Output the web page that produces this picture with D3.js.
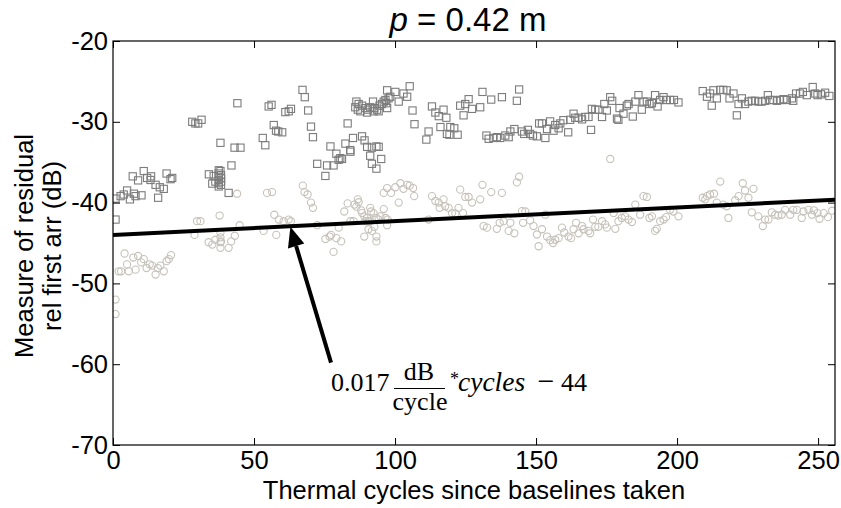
<!DOCTYPE html>
<html><head><meta charset="utf-8">
<script src="https://cdn.jsdelivr.net/npm/d3@7"></script>
<style>body{margin:0;background:#fff}svg{display:block}</style>
</head><body>
<svg id="chart" width="841" height="508"></svg>
<script>
// ---- data ----
const xTicks = [0, 50, 100, 150, 200, 250];
const yTicks = [-20, -30, -40, -50, -60, -70];
const xDomain = [0, 256];
const yDomain = [-70, -20];
const fitSlope = 0.017;
const fitIntercept = -44;
const arrowTail = [77.3, -59.8];
const arrowTip = [62.9, -43.0];

const squareSeries = [
[0.9,-39.5],[0.9,-42.1],[2.7,-39.2],[3.8,-39.0],[5.0,-38.5],[6.0,-39.6],[7.0,-36.75],[7.4,-38.9],[8.0,-39.2],[8.9,-37.25],[10.1,-39.1],[10.9,-36.1],[12.1,-36.95],[13.3,-37.2],[13.5,-36.75],[15.1,-37.8],[16.0,-39.4],[16.6,-38.1],[18.0,-38.3],[19.0,-36.4],[20.4,-37.1],[21.0,-36.95],
[28.1,-30.0],[29.2,-30.2],[30.2,-30.2],[31.4,-29.75],
[34.0,-36.5],[35.2,-37.65],[35.7,-36.7],[36.3,-37.4],[37.5,-36.0],[37.5,-36.4],[37.5,-36.8],[37.5,-37.2],[37.5,-37.6],[37.5,-38.0],[38.1,-36.1],[38.1,-32.6],[38.3,-36.6],[38.3,-37.0],[38.3,-37.4],[38.3,-37.8],[41.0,-38.8],[42.0,-35.4],[43.1,-33.2],[44.1,-27.7],[45.2,-33.2],
[53.1,-32.0],[54.0,-32.9],[55.2,-28.1],[56.2,-27.9],[57.0,-30.4],[57.8,-31.1],[58.6,-31.2],[60.0,-31.3],[61.1,-28.8],[62.3,-28.7],[63.1,-28.4],
[67.2,-26.05],[68.0,-26.95],[69.2,-28.6],[70.2,-30.6],[70.9,-31.9],[72.4,-35.2],[75.3,-36.7],[75.9,-35.4],[77.1,-33.05],[78.2,-35.4],[79.2,-33.95],[80.0,-34.7],[80.6,-34.5],[81.2,-34.6],[82.4,-32.7],[83.2,-30.2],[84.1,-33.5],[84.2,-33.7],[85.1,-32.0],
[85.9,-28.2],[86.3,-27.5],[86.8,-28.5],[87.1,-27.8],[87.7,-28.7],[88.3,-28.0],[88.3,-31.8],[89.2,-32.3],[89.5,-28.3],[90.1,-33.1],[90.1,-28.85],[90.3,-28.5],[91.2,-28.2],[91.2,-34.2],[91.8,-33.2],[91.8,-35.2],[92.2,-27.5],[92.4,-28.7],[92.7,-28.3],[93.4,-33.05],[93.4,-35.8],[93.6,-28.5],[94.2,-33.1],[94.2,-28.7],[94.5,-28.0],[95.1,-34.6],[95.4,-27.8],[96.0,-27.5],[96.6,-27.3],[96.9,-27.7],[97.2,-28.3],[97.2,-26.1],[97.7,-27.1],[98.3,-26.9],[100.1,-26.3],[101.3,-27.5],[103.0,-26.5],[104.3,-26.9],[105.2,-25.6],[106.2,-28.6],[106.9,-30.3],
[111.1,-32.2],[111.9,-31.2],[113.1,-28.1],[114.3,-28.85],[115.5,-29.3],[116.1,-30.65],[117.2,-28.5],[118.2,-29.5],[118.4,-31.5],[119.3,-31.6],[119.6,-30.65],[121.0,-30.8],[122.2,-31.6],[123.1,-28.0],[124.3,-29.2],[124.9,-27.8],[126.1,-27.2],[127.3,-28.4],[130.2,-28.2],[131.0,-26.3],
[132.4,-31.7],[133.2,-32.1],[134.1,-27.25],[134.9,-32.0],[136.1,-31.9],[137.3,-32.0],[137.9,-26.95],[139.1,-31.7],[140.3,-31.9],[140.9,-31.2],[142.3,-30.9],[143.2,-27.4],[144.0,-26.0],[145.0,-31.2],[145.8,-31.5],[147.1,-31.0],[147.9,-31.5],[148.9,-31.7],[150.3,-31.8],[151.1,-30.2],[152.1,-30.2],[153.3,-32.0],[153.9,-30.9],[155.0,-29.95],[156.2,-31.1],[156.8,-30.4],[158.0,-30.8],[158.6,-30.2],[159.7,-29.8],[161.4,-31.3],[162.1,-29.75],[163.3,-29.0],[163.9,-29.5],[165.1,-29.5],[166.3,-29.7],[167.4,-29.4],[168.6,-29.4],[169.5,-31.0],[169.8,-28.4],[171.0,-28.5],[172.1,-28.5],[173.4,-29.4],[174.2,-27.8],[175.1,-28.6],[176.3,-26.95],[177.0,-27.4],[178.7,-29.6],[179.2,-29.75],[179.6,-28.3],[181.0,-29.0],[182.2,-28.0],[182.8,-27.8],[184.3,-29.35],[185.2,-27.5],[186.3,-26.7],[187.5,-28.5],[188.1,-27.5],[189.3,-27.5],[190.2,-27.8],[191.1,-27.7],[192.2,-26.7],[193.1,-28.1],[194.0,-27.3],[195.2,-26.95],[196.1,-27.3],[197.5,-27.3],[198.9,-27.3],[200.5,-27.6],
[209.1,-26.2],[210.6,-26.9],[211.7,-26.5],[212.3,-28.0],[212.9,-26.1],[214.1,-27.1],[215.3,-26.05],[216.4,-26.05],[217.6,-26.1],[218.6,-27.1],[220.0,-26.5],[221.2,-29.2],[221.8,-27.8],[223.0,-27.1],[224.1,-27.8],[225.3,-27.5],[226.5,-27.4],[227.7,-27.4],[228.8,-27.5],[230.0,-27.5],[231.2,-27.4],[232.2,-26.7],[233.0,-27.3],[234.2,-27.3],[235.4,-27.4],[236.5,-27.3],[237.7,-27.2],[238.9,-27.3],[240.7,-27.1],[241.2,-27.4],[242.2,-26.5],[243.6,-26.5],[244.6,-26.3],[246.0,-26.7],[248.1,-25.7],[249.0,-26.5],[249.8,-26.7],[251.0,-26.6],[252.5,-26.4],[254.0,-26.8]
];

const circleSeries = [
[0.9,-52.0],[0.9,-53.8],[2.0,-48.5],[2.9,-48.5],[4.1,-46.3],[5.0,-47.65],[5.6,-48.5],[7.2,-46.8],[8.0,-48.3],[8.9,-46.6],[10.0,-47.4],[10.9,-47.0],[11.9,-48.1],[13.0,-47.65],[13.9,-47.8],[15.1,-48.9],[15.9,-48.1],[16.8,-47.8],[18.0,-48.5],[19.0,-47.25],[19.8,-47.0],[20.6,-46.5],
[28.9,-44.0],[29.8,-42.3],[31.0,-42.3],[33.9,-44.9],[35.2,-45.2],[36.3,-44.6],[37.8,-41.6],[38.1,-43.7],[38.1,-44.3],[38.1,-44.9],[38.1,-45.6],[38.3,-44.8],[41.0,-45.6],[41.9,-44.8],[43.2,-44.1],[44.0,-38.9],[44.9,-42.8],
[53.4,-43.5],[54.6,-38.8],[56.4,-38.7],[57.2,-41.5],[57.9,-44.0],[58.8,-42.1],[60.5,-42.3],[62.3,-42.1],[63.1,-42.3],[67.3,-37.9],[67.9,-38.7],[69.0,-39.0],[70.2,-40.0],[70.9,-40.65],[72.4,-42.8],[75.3,-44.5],[76.8,-44.2],[77.3,-44.0],[78.2,-46.1],[79.2,-44.4],[80.0,-43.1],[80.9,-44.8],[82.0,-41.1],[83.2,-40.1],[84.2,-42.3],[85.3,-42.3],[85.6,-40.25],[86.3,-40.5],[86.8,-39.6],[87.1,-39.95],[88.0,-40.95],[88.3,-41.3],[89.1,-41.7],[89.1,-44.2],[89.5,-42.3],[90.1,-41.9],[90.6,-42.3],[90.6,-43.3],[91.2,-40.65],[91.2,-42.3],[91.5,-41.1],[91.8,-43.5],[92.4,-41.3],[92.7,-43.0],[93.4,-41.9],[93.4,-44.2],[93.4,-44.8],[94.2,-42.1],[94.8,-41.7],[96.0,-40.8],[96.0,-38.8],[96.6,-41.9],[97.2,-42.8],[97.2,-38.2],[97.4,-42.1],[98.6,-38.8],[100.1,-38.1],[101.3,-40.0],[101.9,-37.6],[103.0,-38.3],[104.3,-37.8],[105.2,-37.9],[106.4,-38.2],[106.8,-39.2],
[111.9,-42.1],[113.1,-39.2],[114.3,-39.8],[115.5,-40.0],[115.8,-40.65],[117.2,-39.6],[117.8,-40.45],[119.0,-40.65],[120.2,-41.3],[121.4,-41.35],[122.5,-40.65],[123.1,-38.4],[124.1,-41.3],[124.9,-39.3],[126.1,-39.3],[127.3,-40.0],[130.2,-39.6],[131.0,-37.8],[131.4,-42.9],[132.6,-43.1],[134.1,-38.7],[136.1,-43.25],[137.1,-42.5],[137.9,-38.8],[138.5,-42.3],[140.3,-43.5],[140.9,-42.5],[142.3,-43.8],[143.2,-37.5],[144.0,-36.8],[145.0,-41.05],[145.4,-42.5],[146.2,-41.1],[147.9,-42.2],[149.1,-42.9],[150.3,-43.95],[150.9,-45.4],[152.1,-43.3],[153.3,-41.5],[153.9,-44.2],[155.0,-44.65],[156.0,-45.0],[156.8,-44.6],[158.0,-44.4],[159.2,-43.1],[160.0,-43.7],[161.5,-44.2],[162.4,-44.4],[163.3,-43.3],[164.2,-42.5],[165.1,-43.8],[166.3,-42.9],[166.8,-43.3],[168.6,-43.5],[169.2,-43.8],[170.2,-42.1],[171.0,-43.0],[172.1,-43.0],[173.4,-42.3],[174.5,-42.7],[175.1,-43.1],[176.3,-34.6],[177.5,-41.3],[178.1,-43.25],[179.2,-42.3],[180.4,-41.9],[181.6,-41.7],[182.8,-42.1],[184.0,-42.4],[185.2,-40.25],[186.9,-41.5],[188.1,-39.2],[189.3,-39.3],[190.2,-41.9],[191.1,-41.7],[192.2,-43.5],[192.8,-43.25],[194.0,-42.3],[195.2,-42.1],[196.1,-41.8],[197.5,-40.9],[198.7,-41.1],[200.5,-41.7],
[209.1,-39.4],[210.0,-39.6],[210.6,-39.2],[211.7,-39.0],[213.1,-38.9],[214.1,-40.0],[215.3,-37.4],[216.4,-40.25],[217.6,-40.45],[218.2,-41.9],[220.6,-39.7],[221.8,-39.2],[223.3,-37.6],[224.1,-38.5],[225.3,-39.4],[226.5,-41.2],[227.1,-38.3],[228.8,-41.7],[230.4,-42.9],[231.2,-42.1],[232.4,-42.1],[233.6,-41.2],[234.8,-41.5],[235.9,-41.6],[237.1,-41.5],[238.3,-40.9],[240.1,-41.5],[241.2,-40.9],[242.5,-40.9],[244.2,-41.9],[244.8,-41.1],[246.6,-40.9],[247.8,-41.5],[248.5,-40.95],[249.8,-41.3],[250.5,-42.0],[252.0,-41.3],[253.5,-41.8],[255.0,-41.0]
];

// ---- drawing ----
const svg = d3.select("#chart");
const L = 113, R = 835, T = 41, B = 445;
const x = d3.scaleLinear().domain(xDomain).range([L, R]);
const y = d3.scaleLinear().domain(yDomain).range([B, T]);
const sans = "'Liberation Sans', Arial, Helvetica, sans-serif";
const serif = "'Liberation Serif', 'Times New Roman', serif";

svg.append("rect").attr("width",841).attr("height",508).attr("fill","#fff");

const g = svg.append("g");
svg.append("clipPath").attr("id","clip").append("rect")
  .attr("x",L).attr("y",T).attr("width",R-L).attr("height",B-T);
const plot = g.append("g").attr("clip-path","url(#clip)");

// circles (light)
plot.append("g").selectAll("circle").data(circleSeries).join("circle")
  .attr("cx",d=>x(d[0])).attr("cy",d=>y(d[1])).attr("r",3.6)
  .attr("fill","none").attr("stroke","#c6c2ba").attr("stroke-width",1.1);

// squares (gray)
const s = 7.2;
plot.append("g").selectAll("rect").data(squareSeries).join("rect")
  .attr("x",d=>x(d[0])-s/2).attr("y",d=>y(d[1])-s/2).attr("width",s).attr("height",s)
  .attr("fill","none").attr("stroke","#7c7c7c").attr("stroke-width",1.1);

// fit line
plot.append("line")
  .attr("x1",x(xDomain[0])).attr("y1",y(fitIntercept + fitSlope*xDomain[0]))
  .attr("x2",x(xDomain[1])).attr("y2",y(fitIntercept + fitSlope*xDomain[1]))
  .attr("stroke","#000").attr("stroke-width",4);

// axes frame and ticks (inward, on all sides)
const tl = 7;
const fmt = d => String(d);
const axisBottom = d3.axisBottom(x).tickValues(xTicks).tickSizeInner(-tl).tickSizeOuter(0).tickPadding(6).tickFormat(fmt);
const axisTop = d3.axisTop(x).tickValues(xTicks).tickSizeInner(-tl).tickSizeOuter(0).tickFormat("");
const axisLeft = d3.axisLeft(y).tickValues(yTicks).tickSizeInner(-tl).tickSizeOuter(0).tickPadding(5).tickFormat(fmt);
const axisRight = d3.axisRight(y).tickValues(yTicks).tickSizeInner(-tl).tickSizeOuter(0).tickFormat("");

function styleAxis(sel){
  sel.selectAll("path").remove();
  sel.selectAll("line").attr("stroke","#000").attr("stroke-width",1);
  sel.selectAll("text").attr("font-family",sans).attr("font-size",25.5).attr("fill","#000");
}
g.append("g").attr("transform",`translate(0,${B})`).call(axisBottom).call(styleAxis);
g.append("g").attr("transform",`translate(0,${T})`).call(axisTop).call(styleAxis);
g.append("g").attr("transform",`translate(${L},0)`).call(axisLeft).call(styleAxis);
g.append("g").attr("transform",`translate(${R},0)`).call(axisRight).call(styleAxis);
g.append("rect").attr("x",L).attr("y",T).attr("width",R-L).attr("height",B-T)
  .attr("fill","none").attr("stroke","#000").attr("stroke-width",1.2);

// arrow
const tx = x(arrowTail[0]), ty = y(arrowTail[1]);
const hx = x(arrowTip[0]), hy = y(arrowTip[1]);
const ang = Math.atan2(hy-ty, hx-tx);
const hl = 20, hw = 8.5;
const bx = hx - hl*Math.cos(ang), by = hy - hl*Math.sin(ang);
g.append("line").attr("x1",tx).attr("y1",ty).attr("x2",bx).attr("y2",by)
  .attr("stroke","#000").attr("stroke-width",4);
g.append("path").attr("d",
  `M${hx},${hy} L${bx + hw*Math.sin(ang)},${by - hw*Math.cos(ang)} L${bx - hw*Math.sin(ang)},${by + hw*Math.cos(ang)} Z`)
  .attr("fill","#000");

// annotation (equation)
const ax0 = 332, ay0 = 391;
const eq = g.append("g").attr("font-family",serif).attr("font-size",26).attr("fill","#000");
eq.append("text").attr("x",ax0-1).attr("y",ay0).text("0.017");
eq.append("text").attr("x",ax0+87).attr("y",ay0-11).attr("text-anchor","middle").text("dB");
eq.append("line").attr("x1",ax0+62).attr("x2",ax0+113).attr("y1",ay0-2.5).attr("y2",ay0-2.5).attr("stroke","#000").attr("stroke-width",1.2);
eq.append("text").attr("x",ax0+88).attr("y",ay0+19).attr("text-anchor","middle").text("cycle");
eq.append("text").attr("x",ax0+118).attr("y",ay0-6).attr("font-size",18).text("*");
eq.append("text").attr("x",ax0+126).attr("y",ay0).attr("font-style","italic").attr("font-size",27.5).text("cycles");
eq.append("text").attr("x",ax0+214).attr("y",ay0).attr("text-anchor","middle").attr("font-size",30).text("\u2212");
eq.append("text").attr("x",ax0+229).attr("y",ay0).text("44");

// title
const title = svg.append("text").attr("x",468).attr("y",31).attr("text-anchor","middle")
  .attr("font-family",sans).attr("font-size",33).attr("fill","#000");
title.append("tspan").attr("font-style","italic").text("p");
title.append("tspan").text(" = 0.42 m");

// x label
svg.append("text").attr("x",(L+R)/2).attr("y",499).attr("text-anchor","middle")
  .attr("font-family",sans).attr("font-size",25.5).attr("fill","#000")
  .text("Thermal cycles since baselines taken");

// y label (two lines)
const yl = svg.append("text").attr("transform",`translate(33,${(T+B)/2+3}) rotate(-90)`)
  .attr("text-anchor","middle").attr("font-family",sans).attr("font-size",25.5).attr("fill","#000");
yl.append("tspan").attr("x",0).attr("dy",0).text("Measure of residual");
yl.append("tspan").attr("x",0).attr("dy",28).text("rel first arr (dB)");
</script>
</body></html>
